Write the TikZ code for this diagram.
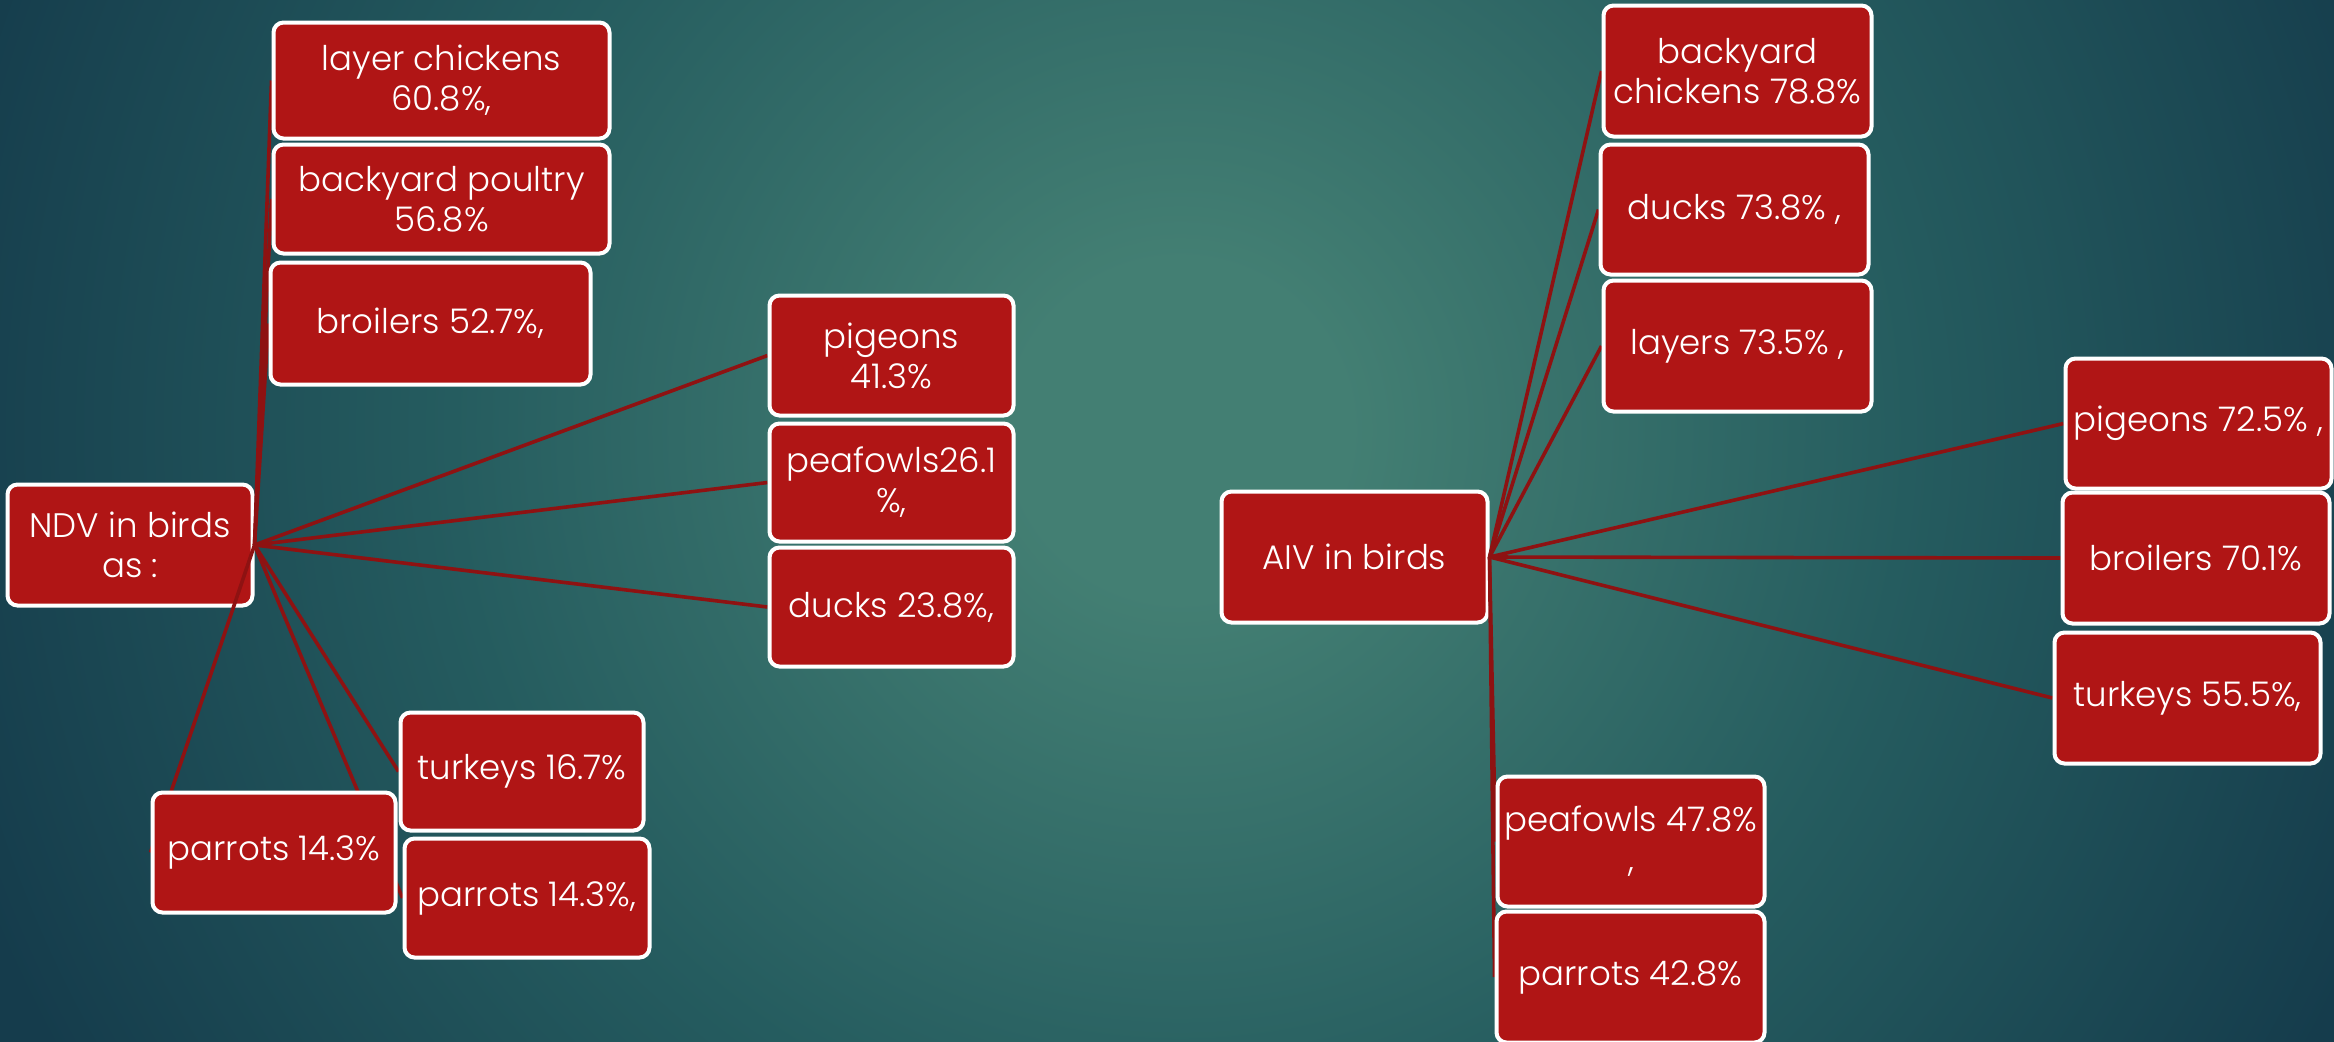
\documentclass[tikz,border=0pt]{standalone}
\usepackage{fontspec}
\setmainfont{Poppins}[UprightFont=* Light]
\definecolor{boxred}{HTML}{B01515}
\definecolor{linkred}{HTML}{8E1212}
\definecolor{bgin}{HTML}{437F73}
\definecolor{bgmid}{HTML}{255C5F}
\definecolor{bgout}{HTML}{153C4C}
\pgfdeclarelayer{back}\pgfdeclarelayer{hub}\pgfdeclarelayer{links}
\pgfsetlayers{back,hub,links,main}
\pgfdeclareradialshading{bgshade}{\pgfpoint{0bp}{0bp}}{color(0bp)=(bgin); color(3bp)=(bgin); color(13bp)=(bgmid); color(23bp)=(bgout); color(50bp)=(bgout)}
\begin{document}
\begin{tikzpicture}[x=0.5pt,y=-0.5pt,
  card/.style={draw=white, line width=2pt, fill=boxred, rounded corners=5pt,
    text=white, align=center, inner sep=0pt, font=\fontsize{17}{20}\selectfont},
  wh/.style 2 args={minimum width=#1*0.5pt, minimum height=#2*0.5pt},
  link/.style={draw=linkred, line width=1.8pt}]
\useasboundingbox (0,0) rectangle (2334,1041);
\begin{pgfonlayer}{back}
\clip (0,0) rectangle (2334,1041);
\shade[shading=bgshade] (1180,430) circle[radius=700pt];
\end{pgfonlayer}
\begin{pgfonlayer}{hub}
\node[card, wh={245}{121}] (ndv) at (130,545) {NDV in birds\\as :};
\node[card, wh={266}{131}] (aiv) at (1354.5,557) {AIV in birds};
\end{pgfonlayer}
% left children
\node[card, wh={336}{116}] (lc) at (441.5,80.5) {layer chickens\\60.8\%,};
\node[card, wh={336}{109}] (bp) at (441.5,199) {backyard poultry\\56.8\%};
\node[card, wh={320}{122}] (br) at (430.5,323.5) {broilers 52.7\%,};
\node[card, wh={244}{120}] (pg) at (891.5,355.5) {pigeons\\41.3\%};
\node[card, wh={244}{118}] (pf) at (891.5,482.5) {peafowls26.1\\\%,};
\node[card, wh={244}{119}] (dk) at (891.5,607) {ducks 23.8\%,};
\node[card, wh={243}{118}] (tk) at (522,771.5) {turkeys 16.7\%};
\node[card, wh={243}{120}] (pa1) at (274,852.5) {parrots 14.3\%};
\node[card, wh={245}{119}] (pa2) at (527,898) {parrots 14.3\%,};
% right children
\node[card, wh={268}{131}] (bc) at (1737.5,71) {backyard\\chickens 78.8\%};
\node[card, wh={268}{130}] (dk2) at (1734.5,209.5) {ducks 73.8\% ,};
\node[card, wh={268}{131}] (ly) at (1737.5,346) {layers 73.5\% ,};
\node[card, wh={266}{130}] (pg2) at (2198.5,423.5) {pigeons 72.5\% ,};
\node[card, wh={267}{131}] (br2) at (2196,558) {broilers 70.1\%};
\node[card, wh={266}{131}] (tk2) at (2187.5,698) {turkeys 55.5\%,};
\node[card, wh={267}{130}] (pf2) at (1631,841.5) {peafowls 47.8\%\\,};
\node[card, wh={268}{131}] (pa3) at (1630.5,977) {parrots 42.8\%};
\begin{pgfonlayer}{links}
\foreach \c in {lc,bp,br,pg,pf,dk,tk,pa1,pa2} \draw[link] (ndv.east) -- (\c.west);
\foreach \c in {bc,dk2,ly,pg2,br2,tk2,pf2,pa3} \draw[link] (aiv.east) -- (\c.west);
\end{pgfonlayer}
\end{tikzpicture}
\end{document}
